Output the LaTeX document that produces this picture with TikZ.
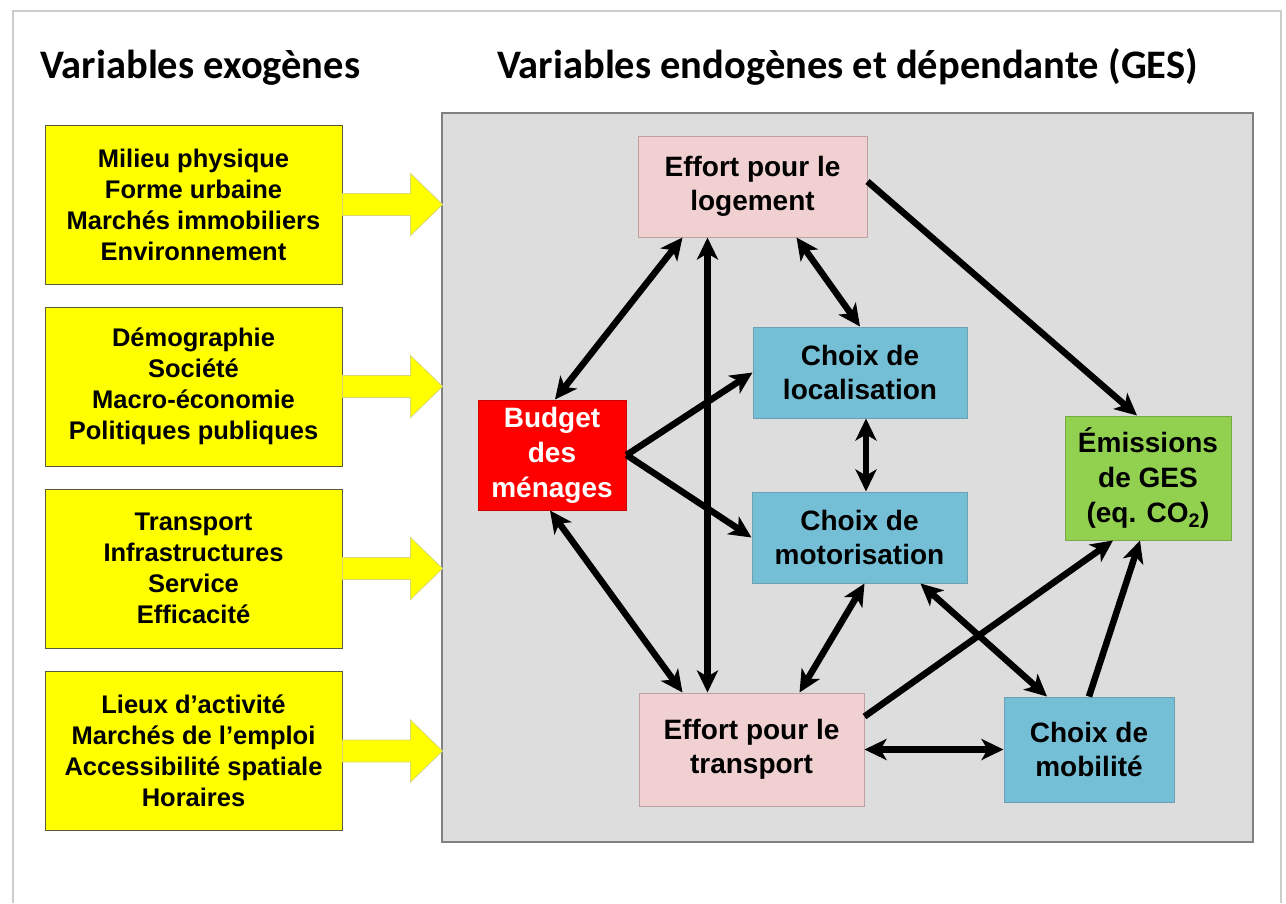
\documentclass[tikz,border=0pt]{standalone}
\usepackage{fontspec}
\setmainfont{Liberation Sans}
\newfontfamily\titlefont{Carlito}
\usetikzlibrary{arrows.meta}

\definecolor{exoyellow}{RGB}{255,255,0}
\definecolor{exoedge}{RGB}{90,90,60}
\definecolor{effortpink}{RGB}{240,208,208}
\definecolor{effortedge}{RGB}{190,160,160}
\definecolor{choixblue}{RGB}{116,191,214}
\definecolor{choixedge}{RGB}{110,160,180}
\definecolor{gesgreen}{RGB}{146,208,80}
\definecolor{gesedge}{RGB}{120,170,70}
\definecolor{budgetred}{RGB}{255,0,0}
\definecolor{panelgray}{RGB}{221,221,221}
\definecolor{paneledge}{RGB}{128,128,128}
\definecolor{frameedge}{RGB}{205,205,205}

\tikzset{
  box/.style={rectangle, inner sep=0pt, align=center, line width=1pt},
  exo/.style={box, fill=exoyellow, draw=exoedge, minimum width=297pt, minimum height=159pt,
    font=\fontsize{25.5}{31}\selectfont\bfseries},
  effort/.style={box, fill=effortpink, draw=effortedge,
    font=\fontsize{28}{34}\selectfont\bfseries},
  choix/.style={box, fill=choixblue, draw=choixedge,
    font=\fontsize{28}{34}\selectfont\bfseries},
  budget/.style={box, fill=budgetred, draw=budgetred!80!black, text=white,
    font=\fontsize{28}{35}\selectfont\bfseries},
  ges/.style={box, fill=gesgreen, draw=gesedge,
    font=\fontsize{28}{35}\selectfont\bfseries},
  tip/.tip={Stealth[length=22pt,width=21pt,inset=6pt]},
  oneway/.style={line width=6.5pt, -tip},
  twoway/.style={line width=6.5pt, tip-tip},
  heading/.style={anchor=base west, inner sep=0pt, font=\titlefont\fontsize{40.5}{42}\selectfont\bfseries},
  feed/.style={fill=exoyellow, draw={rgb,255:red,215;green,215;blue,120}, line width=0.8pt}
}

\begin{document}
\begin{tikzpicture}[x=1pt,y=-1pt]
\useasboundingbox (0,0) rectangle (1286,903);

% page frame
\draw[frameedge, line width=2pt] (13,903) -- (13,11) -- (1281,11) -- (1281,903);

% headings
\node[heading] (h1) at (40,78) {Variables exogènes};
\node[heading] (h2) at (497,78) {Variables endogènes et dépendante (GES)};

% panel of endogenous variables
\draw[fill=panelgray, draw=paneledge, line width=2pt] (442,113) rectangle (1253,842);

% exogenous variables
\node[exo] (e1) at (193.5,204.5) {Milieu physique\\Forme urbaine\\Marchés immobiliers\\Environnement};
\node[exo] (e2) at (193.5,386.5) {Démographie\\Société\\Macro-économie\\Politiques publiques};
\node[exo] (e3) at (193.5,568.5) {Transport\\Infrastructures\\Service\\Efficacité};
\node[exo] (e4) at (193.5,751) {Lieux d’activité\\Marchés de l’emploi\\Accessibilité spatiale\\Horaires};

% block arrows feeding the panel
\foreach \n in {e1,e2,e3,e4}
  \filldraw[feed] ([yshift=11pt]\n.east) -- ++(68pt,0pt) -- ++(0pt,20pt) -- ++(32pt,-31pt)
    -- ++(-32pt,-31pt) -- ++(0pt,20pt) -- ([yshift=-11pt]\n.east) -- cycle;

% endogenous variables
\node[effort, minimum width=229pt, minimum height=101pt] (lg) at (752.5,186.5) {Effort pour le\\logement};
\node[choix, minimum width=214pt, minimum height=91pt] (loc) at (860,372.5) {Choix de\\localisation};
\node[budget, minimum width=148pt, minimum height=110pt] (bud) at (552,455) {Budget\\des\\ménages};
\node[choix, minimum width=215pt, minimum height=91pt] (mot) at (859.5,537.5) {Choix de\\motorisation};
\node[effort, minimum width=225pt, minimum height=113pt] (tr) at (751.5,749.5) {Effort pour le\\transport};
\node[choix, minimum width=170pt, minimum height=105pt] (mob) at (1089,749.5) {Choix de\\mobilité};
\node[ges, minimum width=166pt, minimum height=124pt] (ems) at (1148,478) {Émissions\\de GES\\(eq. CO\textsubscript{2})};

% relations
\coordinate (va) at ([xshift=70pt]lg.south west);
\coordinate (vb) at ([xshift=6pt]loc.south);
\draw[twoway] ([xshift=3pt]bud.north) -- ([xshift=45pt]lg.south west);
\draw[twoway] (va) -- (va |- tr.north);
\draw[twoway] ([xshift=159pt]lg.south west) -- (loc.north);
\draw[oneway] ([yshift=5pt]lg.east) -- ([xshift=-11pt]ems.north);
\draw[oneway] (bud.east) -- (loc.west);
\draw[oneway] (bud.east) -- (mot.west);
\draw[twoway] (vb) -- (vb |- mot.north);
\draw[twoway] ([xshift=-2pt]bud.south) -- ([xshift=44pt]tr.north west);
\draw[twoway] ([xshift=5pt]mot.south) -- ([xshift=48pt]tr.north);
\draw[twoway] ([xshift=-47pt]mot.south east) -- ([xshift=-42pt]mob.north);
\draw[oneway] ([yshift=-24pt]tr.north east) -- ([xshift=-35pt]ems.south);
\draw[oneway] (mob.north) -- ([xshift=-8pt]ems.south);
\draw[twoway] (tr.east) -- (mob.west);
\end{tikzpicture}
\end{document}
